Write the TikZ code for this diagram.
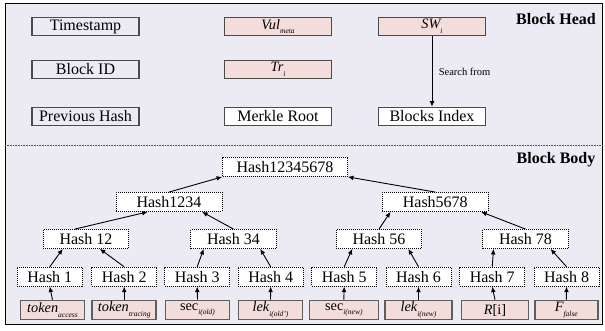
\documentclass[tikz,border=0pt]{standalone}
\usepackage{fontspec}
\setmainfont{Liberation Serif}
\usetikzlibrary{arrows.meta,calc}
\definecolor{bgc}{HTML}{ECEAF2}
\definecolor{pinkc}{HTML}{F2DDDA}
\definecolor{bordc}{HTML}{4A4A4A}
\definecolor{leafbord}{HTML}{5E5E5E}
\newcommand{\sbs}[1]{\raisebox{-0.32em}{\fontsize{7.5}{8}\selectfont\itshape #1}}
\newcommand{\mainsize}{\fontsize{16}{18}\selectfont}
\newcommand{\labsize}{\fontsize{14.3}{16}\selectfont}
\begin{document}
\begin{tikzpicture}[x=1pt,y=-1pt,
 headbox/.style={draw=bordc,line width=1.1pt,minimum width=107pt,minimum height=18.5pt,inner sep=0pt,font=\mainsize},
 pinkbox/.style={headbox,fill=pinkc,font=\labsize},
 whitebox/.style={headbox,fill=white},
 hashbox/.style={draw=black,line width=0.8pt,dash pattern=on 1pt off 1pt,fill=white,minimum height=19pt,inner sep=0pt,font=\mainsize},
 leafbox/.style={draw=leafbord,line width=1.6pt,fill=pinkc,minimum width=64pt,minimum height=19pt,inner sep=0pt,font=\labsize},
 arr/.style={-{Latex[length=5.5pt,width=4.8pt]},line width=0.9pt},
 title/.style={font=\fontsize{16}{18}\selectfont\bfseries}
]
\useasboundingbox (0,0) rectangle (605,331);
\draw[fill=bgc,line width=0.9pt] (5,3.5) rectangle (602,324);
\coordinate (sepL) at (5,145);
\coordinate (sepR) at (602,145);
\draw[gray!60!black,line width=0.8pt,dash pattern=on 0.8pt off 0.8pt] (sepL) -- (sepR);

% Block head
\node[headbox] (ts) at (85.5,26.5) {Timestamp};
\node[headbox] (bid) at (85.5,69.5) {Block ID};
\node[headbox] (ph) at (85.5,116.5) {Previous Hash};
\node[pinkbox] (vul) at (278,26.5) {\itshape Vul\sbs{meta}};
\node[pinkbox] (tr) at (278,69.5) {\itshape Tr\sbs{i}};
\node[whitebox] (mr) at (278,116.5) {Merkle Root};
\node[pinkbox] (sw) at (432,26.5) {\itshape SW\sbs{i}};
\node[whitebox] (bi) at (432,116.5) {Blocks Index};
\draw[arr] (sw) -- node[right=3pt,font=\fontsize{10.5}{12}\selectfont] {Search from} (bi);
\node[title] (bh) at (556,19) {Block Head};
\node[title] (bb) at (556,160) {Block Body};

% Merkle tree
\node[hashbox,minimum width=125pt] (root) at (285,167) {Hash12345678};
\node[hashbox,minimum width=106pt] (h1234) at (169,202) {Hash1234};
\node[hashbox,minimum width=106pt] (h5678) at (435.3,202) {Hash5678};
\node[hashbox,minimum width=85.5pt] (h12) at (86,239) {Hash 12};
\node[hashbox,minimum width=85.5pt] (h34) at (233.5,239) {Hash 34};
\node[hashbox,minimum width=85.5pt] (h56) at (379,239) {Hash 56};
\node[hashbox,minimum width=85.5pt] (h78) at (525.5,239) {Hash 78};
\node[hashbox,minimum width=65pt] (h1) at (49.8,276.7) {Hash 1};
\node[hashbox,minimum width=65pt] (h2) at (124.2,276.7) {Hash 2};
\node[hashbox,minimum width=65pt] (h3) at (197.2,276.7) {Hash 3};
\node[hashbox,minimum width=65pt] (h4) at (270.7,276.7) {Hash 4};
\node[hashbox,minimum width=65pt] (h5) at (344.2,276.7) {Hash 5};
\node[hashbox,minimum width=65pt] (h6) at (418.5,276.7) {Hash 6};
\node[hashbox,minimum width=65pt] (h7) at (492.2,276.7) {Hash 7};
\node[hashbox,minimum width=65pt] (h8) at (566.6,276.7) {Hash 8};

\node[leafbox] (l1) at (52.5,310) {\itshape token\sbs{access}};
\node[leafbox] (l2) at (124.2,310) {\itshape token\sbs{tracing}};
\node[leafbox] (l3) at (197.5,310) {sec\sbs{i(old)}};
\node[leafbox] (l4) at (270.5,310) {\itshape lek\sbs{i(old')}};
\node[leafbox,minimum width=69pt] (l5) at (343.8,310) {sec\sbs{i(new)}};
\node[leafbox,minimum width=67pt] (l6) at (418.5,310) {\itshape lek\sbs{i(new)}};
\node[leafbox,minimum width=67pt] (l7) at (495,310) {\textit{R}[i]};
\node[leafbox,minimum width=63pt] (l8) at (566.3,310) {\itshape F\sbs{false}};

\foreach \i in {1,...,8}{\draw[arr] (l\i.north) -- (h\i.south);}

\draw[arr] (h1.north) -- ($(h12.south west)!0.23!(h12.south east)$);
\draw[arr] (h2.north) -- ($(h12.south west)!0.66!(h12.south east)$);
\draw[arr] (h3.north) -- ($(h34.south west)!0.155!(h34.south east)$);
\draw[arr] (h4.north) -- ($(h34.south west)!0.81!(h34.south east)$);
\draw[arr] (h5.north) -- ($(h56.south west)!0.19!(h56.south east)$);
\draw[arr] (h6.north) -- ($(h56.south west)!0.84!(h56.south east)$);
\draw[arr] (h7.north) -- ($(h78.south west)!0.13!(h78.south east)$);
\draw[arr] (h8.north) -- ($(h78.south west)!0.79!(h78.south east)$);

\draw[arr] ($(h12.north west)!0.37!(h12.north east)$) -- ($(h1234.south west)!0.30!(h1234.south east)$);
\draw[arr] (h34.north) -- ($(h1234.south west)!0.81!(h1234.south east)$);
\draw[arr] (h56.north) -- ($(h5678.south west)!0.08!(h5678.south east)$);
\draw[arr] (h78.north) -- ($(h5678.south west)!0.93!(h5678.south east)$);

\draw[arr] (h1234.north) -- (root.south west);
\draw[arr] (h5678.north) -- (root.south east);
\end{tikzpicture}
\end{document}
